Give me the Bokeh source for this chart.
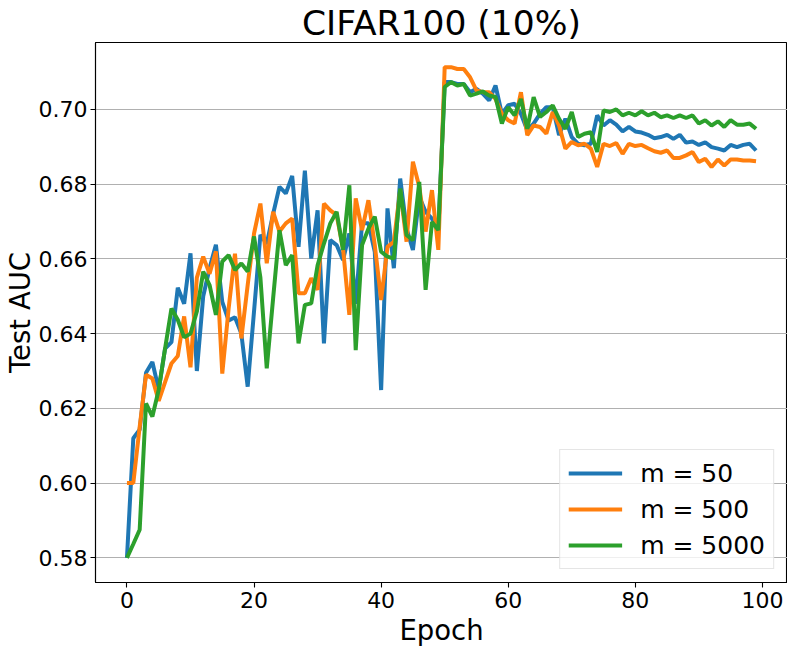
from bokeh.plotting import figure
from bokeh.models import Range1d, FixedTicker, Legend, LegendItem, PrintfTickFormatter
from bokeh.embed import file_html
from bokeh.resources import INLINE

epochs = list(range(100))

auc_m50 = [
    0.580, 0.612, 0.6143, 0.6295, 0.6324, 0.625, 0.636, 0.6377, 0.6523, 0.648,
    0.6615, 0.630, 0.650, 0.6575, 0.6638, 0.6485, 0.6435, 0.6444, 0.640, 0.6258,
    0.646, 0.6664, 0.664, 0.672, 0.6793, 0.6775, 0.6822, 0.6632, 0.6836, 0.6601,
    0.6730, 0.6374, 0.665, 0.6637, 0.6597, 0.6668, 0.648, 0.6695, 0.6695, 0.6619,
    0.6249, 0.6735, 0.6575, 0.6815, 0.6681, 0.6624, 0.6766, 0.6726, 0.6708, 0.6673,
    0.7073, 0.7073, 0.7068, 0.7068, 0.7046, 0.7055, 0.7042, 0.7024, 0.7064, 0.6988,
    0.7011, 0.7015, 0.6988, 0.6944, 0.6962, 0.6988, 0.7006, 0.7006, 0.6931, 0.6975,
    0.6926, 0.6908, 0.6904, 0.6908, 0.6984, 0.6957, 0.6971, 0.6959, 0.6941, 0.6953,
    0.6941, 0.6938, 0.6932, 0.6923, 0.6926, 0.6932, 0.6921, 0.6932, 0.6911, 0.6914,
    0.6905, 0.6912, 0.6899, 0.6895, 0.689, 0.6905, 0.6899, 0.6905, 0.6908, 0.689,
]

auc_m500 = [
    0.600, 0.600, 0.615, 0.629, 0.628, 0.622, 0.627, 0.632, 0.634, 0.6446,
    0.631, 0.655, 0.6606, 0.656, 0.662, 0.6293, 0.6467, 0.6614, 0.6387, 0.653,
    0.6668, 0.6748, 0.6588, 0.6726, 0.6673, 0.6695, 0.6708, 0.6508, 0.6508, 0.6548,
    0.6517, 0.6748, 0.673, 0.6717, 0.6628, 0.645, 0.6762, 0.6677, 0.6757, 0.6637,
    0.649, 0.6632, 0.6646, 0.6784, 0.6646, 0.686, 0.6793, 0.6673, 0.6784, 0.6624,
    0.7113, 0.7113, 0.7108, 0.7108, 0.7086, 0.7051, 0.7046, 0.7046, 0.7028, 0.6988,
    0.6971, 0.6962, 0.7046, 0.6931, 0.6957, 0.6953, 0.6935, 0.6993, 0.6957, 0.6895,
    0.6913, 0.6904, 0.6908, 0.6895, 0.6846, 0.6908, 0.6902, 0.691, 0.6881, 0.6908,
    0.6902, 0.6905, 0.6896, 0.6888, 0.6884, 0.689, 0.687, 0.687, 0.6877, 0.6886,
    0.6859, 0.6868, 0.6846, 0.6866, 0.685, 0.6866, 0.6866, 0.6863, 0.6863, 0.6861,
]

auc_m5000 = [
    0.580, 0.5837, 0.5875, 0.6213, 0.6178, 0.625, 0.636, 0.6467, 0.6437, 0.639,
    0.640, 0.6459, 0.6566, 0.653, 0.645, 0.6593, 0.661, 0.657, 0.6588, 0.6566,
    0.666, 0.655, 0.6307, 0.6494, 0.6677, 0.6583, 0.661, 0.6374, 0.6477, 0.6481,
    0.6583, 0.6641, 0.6695, 0.6726, 0.6624, 0.6797, 0.6356, 0.6637, 0.6681, 0.6713,
    0.6619, 0.6606, 0.6601, 0.6788, 0.6664, 0.665, 0.6806, 0.6517, 0.6699, 0.6677,
    0.706, 0.7073, 0.7064, 0.7068, 0.7037, 0.7042, 0.7048, 0.7037, 0.7033, 0.6962,
    0.7006, 0.6984, 0.7028, 0.6948, 0.7033, 0.698, 0.6993, 0.7011, 0.6975, 0.6948,
    0.6993, 0.6926, 0.6935, 0.6939, 0.6886, 0.6997, 0.6993, 0.700, 0.6984, 0.6991,
    0.6984, 0.6995, 0.6984, 0.6991, 0.6979, 0.6984, 0.6977, 0.6984, 0.6977, 0.6984,
    0.6962, 0.6971, 0.6957, 0.6968, 0.6953, 0.6971, 0.6959, 0.6959, 0.6962, 0.6948,
]

series_labels = ["m = 50", "m = 500", "m = 5000"]
series_colors = ["#1f77b4", "#ff7f0e", "#2ca02c"]
x_ticks = [0, 20, 40, 60, 80, 100]
y_ticks = [0.58, 0.60, 0.62, 0.64, 0.66, 0.68, 0.70]

FONT = "DejaVu Sans"

p = figure(
    frame_width=692, frame_height=540,
    output_backend="svg", toolbar_location=None,
    x_range=Range1d(-4.95, 103.95), y_range=Range1d(0.5734, 0.7179),
    title="CIFAR100 (10%)",
    min_border_left=86, min_border_right=0, min_border_top=33, min_border_bottom=56,
)
p.background_fill_color = "white"
p.border_fill_color = "white"
p.outline_line_color = "black"
p.outline_line_width = 1.1

p.title.text_font = FONT
p.title.text_font_size = "34.5px"
p.title.text_font_style = "normal"
p.title.align = "center"
p.title.standoff = 0
p.title.text_color = "black"

p.xgrid.visible = False
p.ygrid.grid_line_color = "#b0b0b0"
p.ygrid.grid_line_width = 1.1
p.ygrid.ticker = FixedTicker(ticks=y_ticks)

p.xaxis.ticker = FixedTicker(ticks=x_ticks)
p.yaxis.ticker = FixedTicker(ticks=y_ticks)
p.yaxis.formatter = PrintfTickFormatter(format="%.2f")
for ax in (p.xaxis, p.yaxis):
    ax.axis_line_color = "black"
    ax.axis_line_width = 1.1
    ax.major_tick_line_color = "black"
    ax.major_tick_line_width = 1.1
    ax.major_tick_out = 5
    ax.major_tick_in = 0
    ax.minor_tick_line_color = None
    ax.major_label_text_font = FONT
    ax.major_label_text_font_size = "22px"
    ax.major_label_text_color = "black"
    ax.axis_label_text_font = FONT
    ax.axis_label_text_font_size = "27.5px"
    ax.axis_label_text_font_style = "normal"
    ax.axis_label_text_color = "black"
p.xaxis.axis_label = "Epoch"
p.yaxis.axis_label = "Test AUC"
p.xaxis.major_label_standoff = 4
p.yaxis.major_label_standoff = 3
p.xaxis.axis_label_standoff = 3
p.yaxis.axis_label_standoff = 0

items = []
for vals, lab, col in zip([auc_m50, auc_m500, auc_m5000], series_labels, series_colors):
    r = p.line(epochs, vals, line_color=col, line_width=4)
    items.append(LegendItem(label=lab, renderers=[r]))

legend = Legend(items=items, location="bottom_right")
legend.label_text_font = FONT
legend.label_text_font_size = "25px"
legend.label_text_color = "black"
legend.glyph_width = 54
legend.glyph_height = 30
legend.label_height = 30
legend.label_standoff = 18
legend.spacing = 6
legend.padding = 8
legend.margin = 13
legend.border_line_color = "#cccccc"
legend.border_line_width = 1
legend.background_fill_color = "white"
legend.background_fill_alpha = 0.8
p.add_layout(legend)

open("out.html", "w").write(file_html(p, INLINE))
